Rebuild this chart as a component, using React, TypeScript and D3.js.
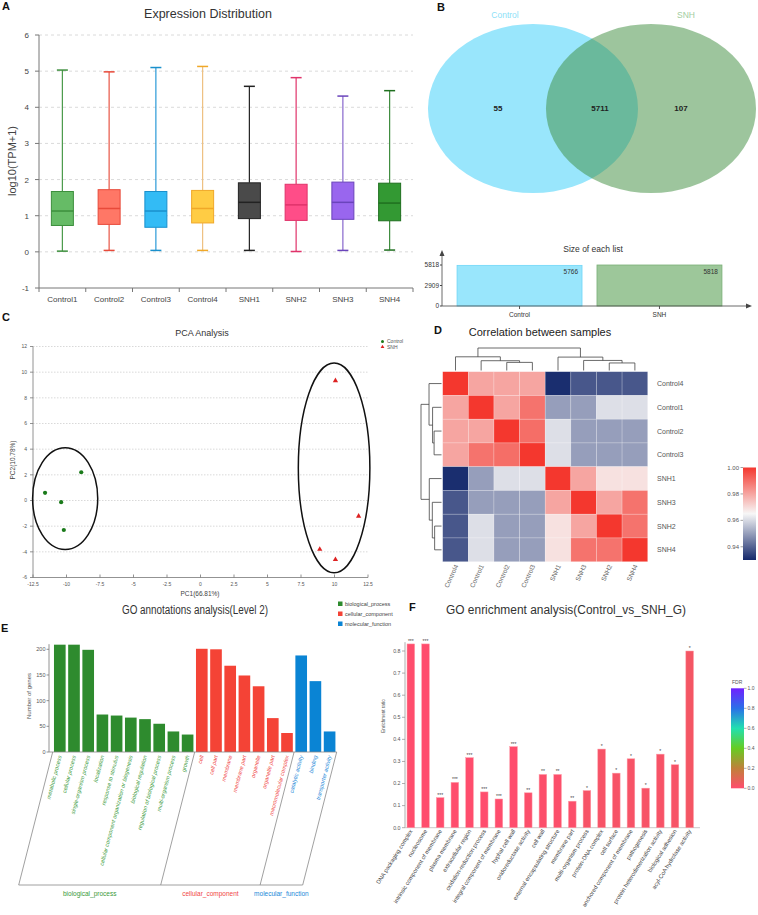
import React from "react";
import * as d3 from "d3";

const FONT = "'Liberation Sans', Arial, Helvetica, sans-serif";

// ---------- Panel A: expression distribution ----------
const samplesA = ["Control1", "Control2", "Control3", "Control4", "SNH1", "SNH2", "SNH3", "SNH4"];
const whiskerLow = [0.02, 0.04, 0.04, 0.04, 0.04, 0.01, 0.04, 0.05];
const quart1 = [0.73, 0.76, 0.68, 0.8, 0.92, 0.87, 0.9, 0.86];
const medians = [1.13, 1.2, 1.13, 1.2, 1.37, 1.3, 1.37, 1.35];
const quart3 = [1.67, 1.72, 1.67, 1.7, 1.91, 1.87, 1.93, 1.9];
const whiskerHigh = [5.03, 4.98, 5.1, 5.13, 4.58, 4.82, 4.31, 4.46];
const yTicksA = [-1, 0, 1, 2, 3, 4, 5, 6];
const boxFill = ["#66bb66", "#ff7766", "#33bbf5", "#ffcc44", "#4a4a4a", "#ff4d88", "#9966ee", "#339933"];
const boxStroke = ["#3d8f3d", "#e84a3a", "#1a90cc", "#f0a828", "#222222", "#e0336a", "#6a44bb", "#1f6f1f"];
const whiskerColor = ["#4a9a4a", "#e85545", "#2a9ad8", "#eec080", "#222222", "#e0336a", "#8866cc", "#3d8b3d"];

// ---------- Panel B: Venn ----------
const vennSets = ["Control", "SNH"];
const vennCounts = [55, 5711, 107];
const listSizes = [5766, 5818];
const listTicks = [0, 2909, 5818];

// ---------- Panel C: PCA ----------
const pcaGroups = ["Control", "SNH"];
const controlPC1 = [-11.6, -10.4, -10.2, -8.9];
const controlPC2 = [0.6, -0.13, -2.3, 2.2];
const snhPC1 = [10.07, 11.8, 8.9, 10.07];
const snhPC2 = [9.34, -1.22, -3.8, -4.6];
const ellipseCx = [-10.1, 9.97];
const ellipseCy = [0.15, 2.54];
const ellipseRx = [2.43, 2.67];
const ellipseRy = [3.97, 8.17];
const pcaXTicks = [-12.5, -10, -7.5, -5, -2.5, 0, 2.5, 5, 7.5, 10, 12.5];
const pcaYTicks = [-6, -4, -2, 0, 2, 4, 6, 8, 10, 12];

// ---------- Panel D: correlation heatmap ----------
const heatOrder = ["Control4", "Control1", "Control2", "Control3", "SNH1", "SNH3", "SNH2", "SNH4"];
const corrMatrix = [
  [1.0, 0.98, 0.98, 0.98, 0.931, 0.938, 0.938, 0.938],
  [0.98, 1.0, 0.98, 0.989, 0.95, 0.95, 0.961, 0.961],
  [0.98, 0.98, 1.0, 0.99, 0.961, 0.95, 0.95, 0.95],
  [0.98, 0.989, 0.99, 1.0, 0.961, 0.95, 0.95, 0.95],
  [0.931, 0.95, 0.961, 0.961, 1.0, 0.98, 0.969, 0.969],
  [0.938, 0.95, 0.95, 0.95, 0.98, 1.0, 0.98, 0.989],
  [0.938, 0.961, 0.95, 0.95, 0.969, 0.98, 1.0, 0.989],
  [0.938, 0.961, 0.95, 0.95, 0.969, 0.989, 0.989, 1.0],
];
// merges: [left, right, height]; "mN" refers to the N-th merge
const dendroMerges: [string, string, number][] = [
  ["Control2", "Control3", 0.0166],
  ["Control1", "m0", 0.02],
  ["Control4", "m1", 0.028],
  ["SNH2", "SNH4", 0.0154],
  ["SNH3", "m3", 0.0206],
  ["SNH1", "m4", 0.0274],
  ["m2", "m5", 0.046],
];
const corrTicks = [0.94, 0.96, 0.98, 1.0];

// ---------- Panel E: GO annotations ----------
const goTerms = [
  "metabolic process", "cellular process", "single-organism process", "localization",
  "response to stimulus", "cellular component organization or biogenesis", "biological regulation",
  "regulation of biological process", "multi-organism process", "growth",
  "cell", "cell part", "membrane", "membrane part", "organelle", "organelle part", "macromolecular complex",
  "catalytic activity", "binding", "transporter activity",
];
const goCounts = [209, 209, 199, 73, 71, 67, 64, 55, 40, 34, 201, 200, 168, 149, 128, 66, 37, 188, 138, 40];
const goCategory = [0, 0, 0, 0, 0, 0, 0, 0, 0, 0, 1, 1, 1, 1, 1, 1, 1, 2, 2, 2];
const goCategoryNames = ["biological_process", "cellular_component", "molecular_function"];
const goYTicks = [0, 50, 100, 150, 200];
const goColors = ["#2e8b2e", "#f44336", "#0a84d4"];
const goTextColors = ["#3a9a3a", "#f04545", "#1a88d8"];

// ---------- Panel F: GO enrichment ----------
const enrichTerms = [
  "DNA packaging complex", "nucleosome", "intrinsic component of membrane", "plasma membrane",
  "extracellular region", "oxidation-reduction process", "integral component of membrane", "hyphal cell wall",
  "oxidoreductase activity", "cell wall", "external encapsulating structure", "membrane part",
  "multi-organism process", "protein-DNA complex", "cell surface", "anchored component of membrane",
  "pathogenesis", "protein heterodimerization activity", "biological adhesion", "acyl-CoA hydrolase activity",
];
const enrichRatio = [0.832, 0.832, 0.136, 0.205, 0.317, 0.162, 0.13, 0.367, 0.158, 0.241, 0.241, 0.12,
  0.168, 0.356, 0.247, 0.312, 0.179, 0.333, 0.285, 0.8];
const enrichStars = ["***", "***", "***", "***", "***", "***", "***", "***", "**", "**", "**", "**",
  "*", "*", "*", "*", "*", "*", "*", "*"];
const enrichFDR = [0.001, 0.001, 0.001, 0.001, 0.001, 0.001, 0.001, 0.001, 0.008, 0.008, 0.008, 0.008,
  0.025, 0.025, 0.025, 0.025, 0.025, 0.025, 0.025, 0.035];
const enrichYTicks = [0, 0.1, 0.2, 0.3, 0.4, 0.5, 0.6, 0.7, 0.8];
const fdrTicks = [0, 0.2, 0.4, 0.6, 0.8, 1.0];
const fdrStops = [0, 0.2, 0.4, 0.6, 0.8, 1.0];
const fdrColors = ["#ff4d6d", "#c0803a", "#66cc22", "#22e0b0", "#2a70e8", "#7020ff"];

function PanelLabel({ x, y, t }: { x: number; y: number; t: string }) {
  return (
    <text x={x} y={y} fontSize={11} fontWeight="bold" fill="#111">
      {t}
    </text>
  );
}

function PanelA() {
  const x = d3.scaleBand<string>().domain(samplesA).range([39, 413]);
  const y = d3.scaleLinear().domain([-1, 6]).range([288, 35]);
  const bw = 22;
  const cap = 5.5;
  const bounds = d3.range(samplesA.length + 1).map((i) => 39 + i * x.step());
  return (
    <g>
      <PanelLabel x={2} y={10} t="A" />
      <text x={208} y={18} fontSize={12.5} textAnchor="middle" fill="#333">
        Expression Distribution
      </text>
      {yTicksA.filter((t) => t > -1).map((t) => (
        <line key={t} x1={39} x2={413} y1={y(t)} y2={y(t)} stroke="#d0d0d0" strokeDasharray="3,3" strokeWidth={0.8} />
      ))}
      <line x1={39} x2={39} y1={y(6)} y2={y(-1)} stroke="#777" />
      <line x1={39} x2={413} y1={y(-1)} y2={y(-1)} stroke="#777" />
      {yTicksA.map((t) => (
        <g key={t}>
          <line x1={35} x2={39} y1={y(t)} y2={y(t)} stroke="#777" />
          <text x={29} y={y(t) + 3} fontSize={8} textAnchor="end" fill="#444">
            {t}
          </text>
        </g>
      ))}
      {bounds.map((b, i) => (
        <line key={i} x1={b} x2={b} y1={288} y2={292} stroke="#777" />
      ))}
      {samplesA.map((s, i) => {
        const cx = (x(s) as number) + x.bandwidth() / 2;
        return (
          <g key={s}>
            <line x1={cx} x2={cx} y1={y(whiskerHigh[i])} y2={y(quart3[i])} stroke={whiskerColor[i]} strokeWidth={1.2} />
            <line x1={cx} x2={cx} y1={y(quart1[i])} y2={y(whiskerLow[i])} stroke={whiskerColor[i]} strokeWidth={1.2} />
            <line x1={cx - cap} x2={cx + cap} y1={y(whiskerHigh[i])} y2={y(whiskerHigh[i])} stroke={boxStroke[i]} strokeWidth={1.5} />
            <line x1={cx - cap} x2={cx + cap} y1={y(whiskerLow[i])} y2={y(whiskerLow[i])} stroke={boxStroke[i]} strokeWidth={1.5} />
            <rect x={cx - bw / 2} y={y(quart3[i])} width={bw} height={y(quart1[i]) - y(quart3[i])} fill={boxFill[i]} stroke={boxStroke[i]} strokeWidth={1} />
            <line x1={cx - bw / 2} x2={cx + bw / 2} y1={y(medians[i])} y2={y(medians[i])} stroke={boxStroke[i]} strokeWidth={1.5} />
            <text x={cx} y={302} fontSize={8} textAnchor="middle" fill="#444">
              {s}
            </text>
          </g>
        );
      })}
      <text transform={`translate(16,161) rotate(-90)`} fontSize={11} textAnchor="middle" fill="#444">
        log10(TPM+1)
      </text>
    </g>
  );
}

function PanelB() {
  const yb = d3.scaleLinear().domain([0, 5818]).range([306, 265]);
  const xb = d3.scaleBand<string>().domain(vennSets).range([449.5, 729.5]).paddingInner(0.107).paddingOuter(0.054);
  return (
    <g>
      <PanelLabel x={437} y={11} t="B" />
      <text x={505} y={18} fontSize={8.5} textAnchor="middle" fill="#8ddff7">
        {vennSets[0]}
      </text>
      <text x={686} y={18} fontSize={8.5} textAnchor="middle" fill="#a3cda0">
        {vennSets[1]}
      </text>
      <ellipse cx={533} cy={108.5} rx={105} ry={84.5} fill="#99e6fc" />
      <ellipse cx={651} cy={108.5} rx={105} ry={84.5} fill="#3c8c3c" fillOpacity={0.5} />
      <text x={498} y={111} fontSize={8} fontWeight="bold" textAnchor="middle" fill="#222">
        {vennCounts[0]}
      </text>
      <text x={600} y={111} fontSize={8} fontWeight="bold" textAnchor="middle" fill="#222">
        {vennCounts[1]}
      </text>
      <text x={681} y={111} fontSize={8} fontWeight="bold" textAnchor="middle" fill="#222">
        {vennCounts[2]}
      </text>
      <text x={593} y={252} fontSize={8.5} textAnchor="middle" fill="#333">
        Size of each list
      </text>
      {vennSets.map((s, i) => {
        const bx = xb(s) as number;
        return (
          <g key={s}>
            <rect x={bx} y={yb(listSizes[i])} width={xb.bandwidth()} height={306 - yb(listSizes[i])}
              fill={i === 0 ? "#99e6fc" : "#9dc79a"} stroke={i === 0 ? "#6fd6f7" : "#7ab077"} strokeWidth={0.8} />
            <text x={bx + xb.bandwidth() - 4} y={yb(listSizes[i]) + 9} fontSize={6.5} textAnchor="end" fill="#333">
              {listSizes[i]}
            </text>
            <line x1={bx + xb.bandwidth() / 2} x2={bx + xb.bandwidth() / 2} y1={306} y2={309} stroke="#555" />
            <text x={bx + xb.bandwidth() / 2} y={316.5} fontSize={6.5} textAnchor="middle" fill="#333">
              {s}
            </text>
          </g>
        );
      })}
      <line x1={442} x2={442} y1={306} y2={254} stroke="#444" strokeWidth={0.8} />
      <path d="M439.5,256 L442,250 L444.5,256 Z" fill="#444" />
      <line x1={442} x2={748} y1={306} y2={306} stroke="#444" strokeWidth={0.8} />
      <path d="M746,303.5 L752,306 L746,308.5 Z" fill="#444" />
      {listTicks.map((t) => (
        <g key={t}>
          <line x1={440} x2={442} y1={yb(t)} y2={yb(t)} stroke="#444" />
          <text x={439} y={yb(t) + 2.3} fontSize={6.5} textAnchor="end" fill="#333">
            {t}
          </text>
        </g>
      ))}
    </g>
  );
}

function PanelC() {
  const x = d3.scaleLinear().domain([-12.5, 12.5]).range([33, 368]);
  const y = d3.scaleLinear().domain([-6, 12]).range([577.5, 346.5]);
  const tri = d3.symbol(d3.symbolTriangle, 12)() as string;
  return (
    <g>
      <PanelLabel x={2} y={321} t="C" />
      <text x={202} y={336} fontSize={9} textAnchor="middle" fill="#333">
        PCA Analysis
      </text>
      {pcaYTicks.filter((t) => t > -6).map((t) => (
        <line key={t} x1={33} x2={368} y1={y(t)} y2={y(t)} stroke="#c8c8c8" strokeDasharray="1.5,1.5" strokeWidth={0.7} />
      ))}
      <line x1={33} x2={33} y1={y(12)} y2={y(-6)} stroke="#777" strokeWidth={0.8} />
      <line x1={33} x2={368} y1={y(-6)} y2={y(-6)} stroke="#777" strokeWidth={0.8} />
      {pcaYTicks.map((t) => (
        <g key={t}>
          <line x1={30} x2={33} y1={y(t)} y2={y(t)} stroke="#777" strokeWidth={0.8} />
          <text x={27} y={y(t) + 1.8} fontSize={5} textAnchor="end" fill="#555">
            {t}
          </text>
        </g>
      ))}
      {pcaXTicks.map((t) => (
        <g key={t}>
          <line x1={x(t)} x2={x(t)} y1={y(-6)} y2={y(-6) - 3} stroke="#777" strokeWidth={0.8} />
          <text x={x(t)} y={586} fontSize={5} textAnchor="middle" fill="#555">
            {t}
          </text>
        </g>
      ))}
      <text x={200} y={596} fontSize={6.5} textAnchor="middle" fill="#444">
        PC1(66.81%)
      </text>
      <text transform={`translate(15,460) rotate(-90)`} fontSize={6.5} textAnchor="middle" fill="#444">
        PC2(10.78%)
      </text>
      {ellipseCx.map((cx, i) => (
        <ellipse key={i} cx={x(cx)} cy={y(ellipseCy[i])} rx={x(cx + ellipseRx[i]) - x(cx)}
          ry={y(ellipseCy[i]) - y(ellipseCy[i] + ellipseRy[i])} fill="none" stroke="#111" strokeWidth={1.5} />
      ))}
      {controlPC1.map((v, i) => (
        <circle key={i} cx={x(v)} cy={y(controlPC2[i])} r={2.1} fill="#1a7a1a" />
      ))}
      {snhPC1.map((v, i) => (
        <path key={i} d={tri} transform={`translate(${x(v)},${y(snhPC2[i])})`} fill="#dd2222" />
      ))}
      <circle cx={382.5} cy={341.5} r={1.5} fill="#1a7a1a" />
      <path d={d3.symbol(d3.symbolTriangle, 6)() as string} transform="translate(382.5,347)" fill="#dd2222" />
      <text x={387} y={343.3} fontSize={5} fill="#555">
        {pcaGroups[0]}
      </text>
      <text x={387} y={348.8} fontSize={5} fill="#555">
        {pcaGroups[1]}
      </text>
    </g>
  );
}

type DNode = { pos: number; h: number };

function PanelD() {
  const gx0 = 442.7, gx1 = 647.7, gy0 = 371.7, gy1 = 561.7;
  const xs = d3.scaleBand<string>().domain(heatOrder).range([gx0, gx1]);
  const ys = d3.scaleBand<string>().domain(heatOrder).range([gy0, gy1]);
  const color = d3.scaleLinear<string>().domain([0.93, 0.965, 1.0]).range(["#14286b", "#f7f7f7", "#f4372e"]);
  const cb = d3.scaleLinear().domain([0.93, 1.0]).range([560, 467.5]);
  const topH = d3.scaleLinear().domain([0, 0.046]).range([370.5, 348]);
  const leftH = d3.scaleLinear().domain([0, 0.046]).range([441.5, 421]);

  const buildLines = (band: d3.ScaleBand<string>, hs: d3.ScaleLinear<number, number>, vertical: boolean) => {
    const nodes: Record<string, DNode> = {};
    heatOrder.forEach((s) => (nodes[s] = { pos: (band(s) as number) + band.bandwidth() / 2, h: 0 }));
    const segs: string[] = [];
    dendroMerges.forEach(([a, b, h], i) => {
      const na = nodes[a], nb = nodes[b];
      const p = (na.pos + nb.pos) / 2;
      if (vertical) {
        segs.push(`M${na.pos},${hs(na.h)}V${hs(h)}H${nb.pos}V${hs(nb.h)}`);
      } else {
        segs.push(`M${hs(na.h)},${na.pos}H${hs(h)}V${nb.pos}H${hs(nb.h)}`);
      }
      nodes["m" + i] = { pos: p, h };
    });
    return segs;
  };
  const topSegs = buildLines(xs, topH, true);
  const leftSegs = buildLines(ys, leftH, false);

  return (
    <g>
      <PanelLabel x={434} y={334} t="D" />
      <text x={540} y={336} fontSize={11} textAnchor="middle" fill="#222">
        Correlation between samples
      </text>
      {corrMatrix.map((row, r) =>
        row.map((v, c) => (
          <rect key={`${r}-${c}`} x={xs(heatOrder[c])} y={ys(heatOrder[r])} width={xs.bandwidth()} height={ys.bandwidth()}
            fill={color(v)} stroke="#ffffff" strokeOpacity={0.35} strokeWidth={0.6} />
        ))
      )}
      {topSegs.map((d, i) => (
        <path key={"t" + i} d={d} fill="none" stroke="#444" strokeWidth={0.8} />
      ))}
      {leftSegs.map((d, i) => (
        <path key={"l" + i} d={d} fill="none" stroke="#444" strokeWidth={0.8} />
      ))}
      {heatOrder.map((s) => (
        <text key={"r" + s} x={657} y={(ys(s) as number) + ys.bandwidth() / 2 + 2.5} fontSize={7} fill="#555">
          {s}
        </text>
      ))}
      {heatOrder.map((s) => (
        <text key={"c" + s} transform={`translate(${(xs(s) as number) + xs.bandwidth() / 2 + 3},${566}) rotate(-65)`}
          fontSize={6.5} textAnchor="end" fill="#666">
          {s}
        </text>
      ))}
      <defs>
        <linearGradient id="corrGrad" x1="0" y1="1" x2="0" y2="0">
          {[0.93, 0.9475, 0.965, 0.9825, 1.0].map((v) => (
            <stop key={v} offset={(v - 0.93) / 0.07} stopColor={color(v)} />
          ))}
        </linearGradient>
      </defs>
      <rect x={743} y={467.5} width={13} height={92.5} fill="url(#corrGrad)" />
      {corrTicks.map((t) => (
        <g key={t}>
          <line x1={740.5} x2={743} y1={cb(t)} y2={cb(t)} stroke="#666" strokeWidth={0.6} />
          <text x={739} y={cb(t) + 2} fontSize={6} textAnchor="end" fill="#555">
            {t.toFixed(2)}
          </text>
        </g>
      ))}
    </g>
  );
}

function PanelE() {
  const x = d3.scaleBand<number>().domain(d3.range(goTerms.length)).range([52.7, 336.7]).paddingInner(0.18).paddingOuter(0.09);
  const y = d3.scaleLinear().domain([0, 200]).range([752, 649.3]);
  const half = (x.step() * 0.18) / 2;
  const topY = 752, botY = 885, dx = -34;
  const sepTops = [
    (x(0) as number) - half,
    (x(10) as number) - half,
    (x(17) as number) - half,
    (x(19) as number) + x.bandwidth() + half,
  ];
  return (
    <g>
      <PanelLabel x={1} y={632} t="E" />
      <text x={195} y={614} fontSize={12} textAnchor="middle" fill="#333" textLength={146} lengthAdjust="spacingAndGlyphs">
        GO annotations analysis(Level 2)
      </text>
      {goCategoryNames.map((n, i) => (
        <g key={n}>
          <rect x={338} y={605 + i * 10 - 3.5} width={4.5} height={4.5} fill={goColors[i]} />
          <text x={345} y={605 + i * 10 + 1} fontSize={5.5} fill="#444">
            {n}
          </text>
        </g>
      ))}
      <line x1={49} x2={49} y1={y(210)} y2={752} stroke="#777" strokeWidth={0.8} />
      {goYTicks.map((t) => (
        <g key={t}>
          <line x1={46.5} x2={49} y1={y(t)} y2={y(t)} stroke="#777" strokeWidth={0.8} />
          <text x={45.5} y={y(t) + 2} fontSize={5.5} textAnchor="end" fill="#555">
            {t}
          </text>
        </g>
      ))}
      <text transform="translate(31,696) rotate(-90)" fontSize={6} textAnchor="middle" fill="#555">
        Number of genes
      </text>
      {goTerms.map((t, i) => (
        <rect key={t + i} x={x(i)} y={y(goCounts[i])} width={x.bandwidth()} height={752 - y(goCounts[i])} fill={goColors[goCategory[i]]} />
      ))}
      <line x1={49} x2={sepTops[3]} y1={topY} y2={topY} stroke="#888" strokeWidth={0.8} />
      {sepTops.map((sx, i) => (
        <line key={i} x1={sx} y1={topY} x2={sx + dx} y2={botY} stroke="#888" strokeWidth={0.8} />
      ))}
      <line x1={sepTops[0] + dx} x2={sepTops[3] + dx} y1={botY} y2={botY} stroke="#888" strokeWidth={0.8} />
      {goTerms.map((t, i) => (
        <text key={"l" + i} transform={`translate(${(x(i) as number) + x.bandwidth() / 2 + 2},${756}) rotate(-75)`}
          fontSize={5.6} fontStyle="italic" textAnchor="end" fill={goTextColors[goCategory[i]]}>
          {t}
        </text>
      ))}
      {goCategoryNames.map((n, i) => {
        const a = sepTops[i] + dx, b = sepTops[i + 1] + dx;
        return (
          <text key={"g" + n} x={(a + b) / 2} y={896} fontSize={6.5} textAnchor="middle" fill={goTextColors[i]}>
            {n}
          </text>
        );
      })}
    </g>
  );
}

function PanelF() {
  const x = d3.scaleBand<number>().domain(d3.range(enrichTerms.length)).range([403.5, 697]).paddingInner(0.48).paddingOuter(0.24);
  const y = d3.scaleLinear().domain([0, 0.8]).range([827.7, 651]);
  const fdrColor = d3.scaleLinear<string>().domain(fdrStops).range(fdrColors);
  const cb = d3.scaleLinear().domain([0, 1]).range([788.3, 688.3]);
  return (
    <g>
      <PanelLabel x={409} y={611} t="F" />
      <text x={566} y={614} fontSize={12.5} textAnchor="middle" fill="#333" textLength={240} lengthAdjust="spacingAndGlyphs">
        GO enrichment analysis(Control_vs_SNH_G)
      </text>
      <line x1={405} x2={405} y1={y(0.84)} y2={y(0)} stroke="#999" strokeWidth={0.8} />
      <line x1={405} x2={700} y1={y(0)} y2={y(0)} stroke="#bbb" strokeWidth={0.8} />
      {enrichYTicks.map((t) => (
        <g key={t}>
          <line x1={402} x2={405} y1={y(t)} y2={y(t)} stroke="#999" strokeWidth={0.8} />
          <text x={400.5} y={y(t) + 1.8} fontSize={5.3} textAnchor="end" fill="#555">
            {t.toFixed(1)}
          </text>
        </g>
      ))}
      <text transform="translate(385,716) rotate(-90)" fontSize={4.6} textAnchor="middle" fill="#555">
        Enrichment ratio
      </text>
      {enrichTerms.map((t, i) => {
        const bx = x(i) as number;
        const c = bx + x.bandwidth() / 2;
        return (
          <g key={t}>
            <rect x={bx} y={y(enrichRatio[i])} width={x.bandwidth()} height={y(0) - y(enrichRatio[i])}
              fill={fdrColor(enrichFDR[i])} stroke="#ff9aa6" strokeWidth={0.5} />
            <text x={c} y={y(enrichRatio[i]) - 1} fontSize={5} textAnchor="middle" fill="#444">
              {enrichStars[i]}
            </text>
            <text transform={`translate(${c + 2},${831}) rotate(-58)`} fontSize={5.8} textAnchor="end" fill="#444">
              {t}
            </text>
          </g>
        );
      })}
      <defs>
        <linearGradient id="fdrGrad" x1="0" y1="1" x2="0" y2="0">
          {fdrStops.map((v, i) => (
            <stop key={v} offset={v} stopColor={fdrColors[i]} />
          ))}
        </linearGradient>
      </defs>
      <text x={732} y={684} fontSize={5} fill="#555">
        FDR
      </text>
      <rect x={731} y={688.3} width={13} height={100} fill="url(#fdrGrad)" />
      {fdrTicks.map((t) => (
        <g key={t}>
          <line x1={744} x2={746.5} y1={cb(t)} y2={cb(t)} stroke="#777" strokeWidth={0.6} />
          <text x={747.5} y={cb(t) + 1.8} fontSize={5} fill="#555">
            {t.toFixed(1)}
          </text>
        </g>
      ))}
    </g>
  );
}

export default function App() {
  return (
    <div style={{ position: "absolute", left: 0, top: 0 }}>
      <svg width={758} height={915} style={{ display: "block", background: "#fff" }} fontFamily={FONT}>
        <rect width={758} height={915} fill="#fff" />
        <PanelA />
        <PanelB />
        <PanelC />
        <PanelD />
        <PanelE />
        <PanelF />
      </svg>
    </div>
  );
}
